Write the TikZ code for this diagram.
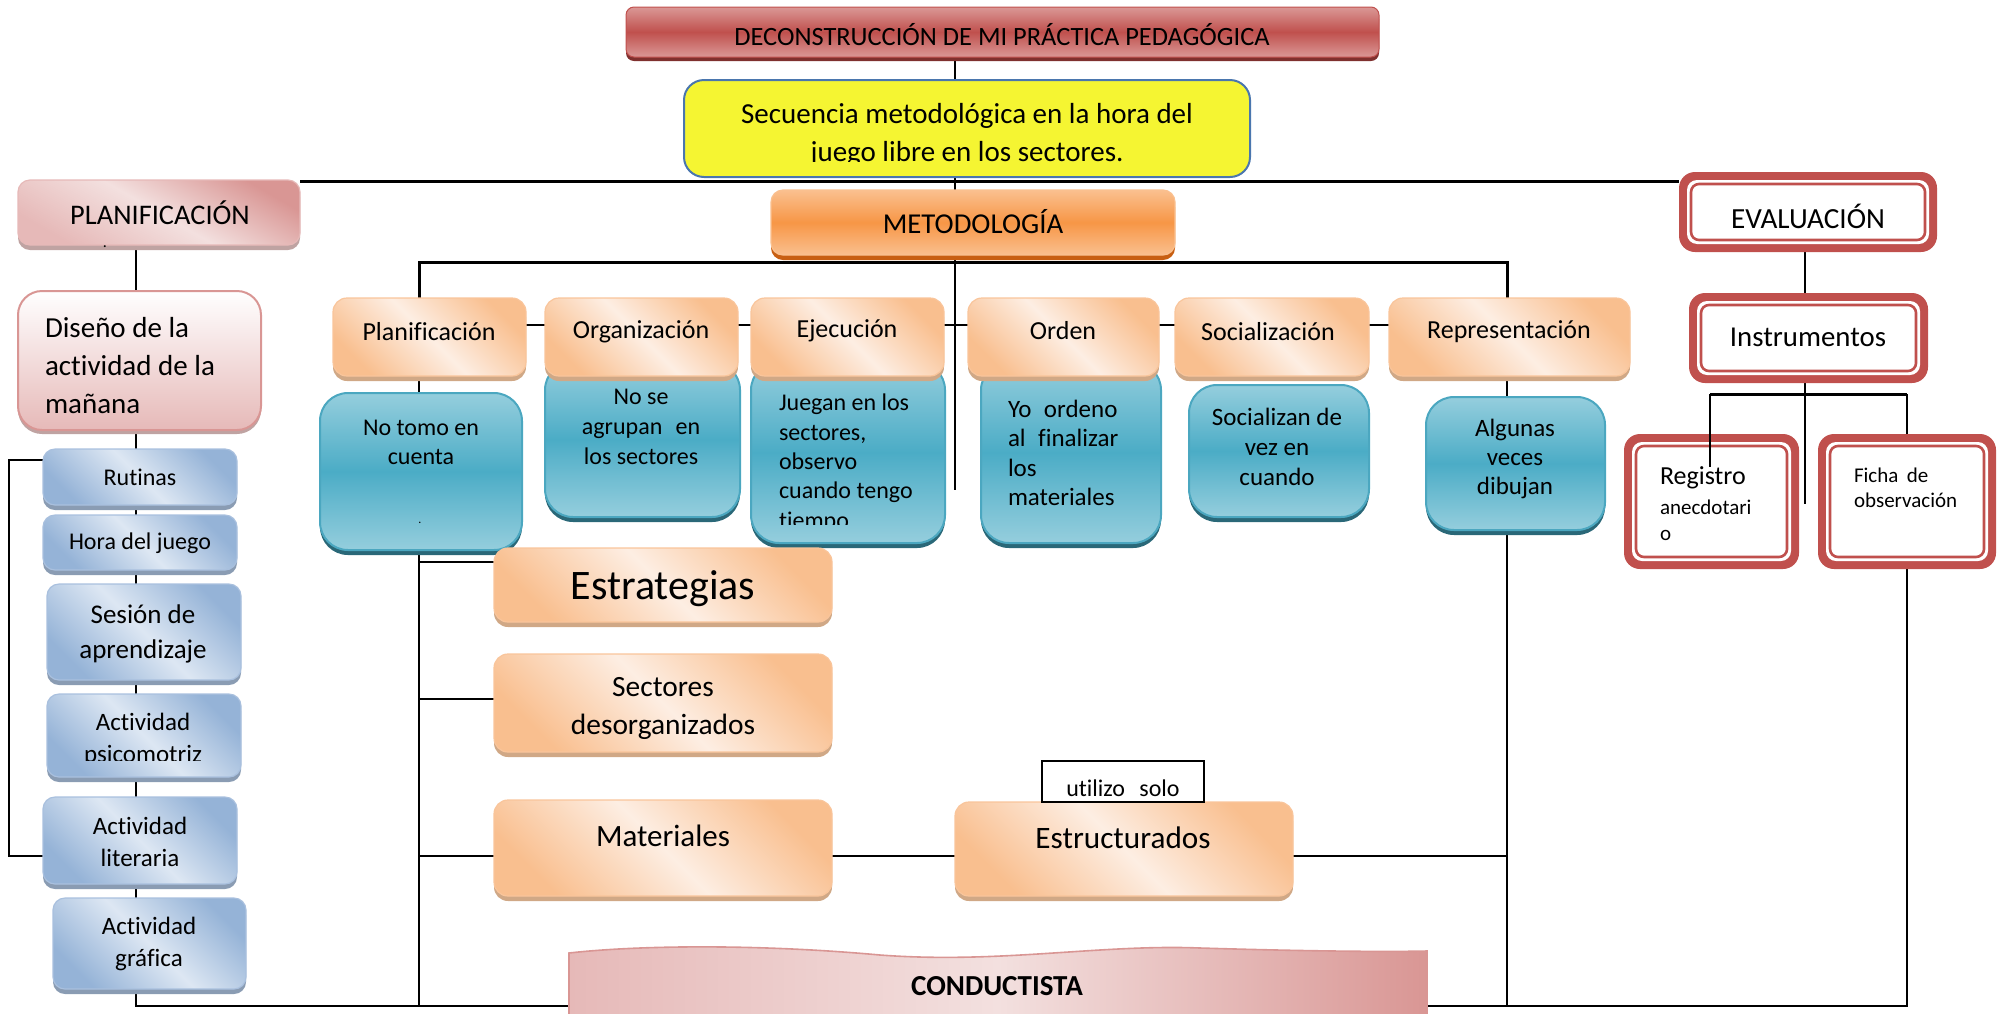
\documentclass[tikz,border=0pt]{standalone}
\usepackage{fontspec}
\setmainfont{Carlito}[Ligatures={NoCommon}]
\usetikzlibrary{fit,shadows,backgrounds}
\newcommand\fsz[2]{\fontsize{#1}{#2}\selectfont}
\definecolor{tred}{HTML}{C0504D}
\definecolor{tredl}{HTML}{DA9896}
\definecolor{tredd}{HTML}{7F302E}
\definecolor{yel}{HTML}{F5F532}
\definecolor{yelb}{HTML}{4A76AE}
\definecolor{orm}{HTML}{F79646}
\definecolor{orl}{HTML}{FAC08F}
\definecolor{ors}{HTML}{C85F12}
\definecolor{pea1}{HTML}{F9BF8F}
\definecolor{pea2}{HTML}{FDEEE3}
\definecolor{peab}{HTML}{F9C59B}
\definecolor{peas}{HTML}{D0A886}
\definecolor{tea}{HTML}{4BACC6}
\definecolor{teal1}{HTML}{95CEDD}
\definecolor{teab}{HTML}{4BA7C0}
\definecolor{teas}{HTML}{2A6878}
\definecolor{blu1}{HTML}{95B3D7}
\definecolor{blu2}{HTML}{DDE7F3}
\definecolor{blub}{HTML}{A9C0DE}
\definecolor{blus}{HTML}{8A9CB3}
\definecolor{pnk1}{HTML}{E6B9B8}
\definecolor{pnk2}{HTML}{F3E0DF}
\definecolor{pnkd}{HTML}{D99694}
\definecolor{pnks}{HTML}{BFA3A2}
\definecolor{evr}{HTML}{C0504D}
\tikzset{
  bx/.style={rectangle, inner sep=0pt, outer sep=0pt},
  txt/.style={inner sep=0pt, outer sep=0pt, text=black},
  conn/.style={line width=1pt, draw=black},
  wideconn/.style={line width=1.5pt, draw=black},
  titlebox/.style={bx, rounded corners=4pt, draw=tred, line width=0.5pt,
     top color=tredl, bottom color=tredl, middle color=tred,
     drop shadow={shadow xshift=0pt, shadow yshift=-2pt, fill=tredd, opacity=1}},
  yelbox/.style={bx, rounded corners=10pt, fill=yel, draw=yelb, line width=1pt},
  metbox/.style={bx, rounded corners=6pt, draw=orl, line width=0.6pt,
     top color=orl, bottom color=orl, middle color=orm,
     drop shadow={shadow xshift=0pt, shadow yshift=-2.5pt, fill=ors, opacity=1}},
  peabox/.style={bx, rounded corners=7pt, draw=peab, line width=0.6pt,
     top color=pea1, bottom color=pea1, middle color=pea2, shading angle=-45,
     drop shadow={shadow xshift=0pt, shadow yshift=-2.5pt, fill=peas, opacity=1}},
  teabox/.style={bx, rounded corners=14pt, draw=teab, line width=1pt,
     top color=teal1, bottom color=teal1, middle color=tea,
     drop shadow={shadow xshift=0pt, shadow yshift=-2.5pt, fill=teas, opacity=1}},
  blubox/.style={bx, rounded corners=6pt, draw=blub, line width=0.6pt,
     top color=blu1, bottom color=blu1, middle color=blu2, shading angle=-45,
     drop shadow={shadow xshift=0pt, shadow yshift=-2.5pt, fill=blus, opacity=1}},
  pnkbox/.style={bx, rounded corners=6pt, draw=pnk1, line width=0.6pt,
     top color=pnkd, bottom color=pnk1, middle color=pnk2, shading angle=-30,
     drop shadow={shadow xshift=0pt, shadow yshift=-2.5pt, fill=pnks, opacity=1}},
  disbox/.style={bx, rounded corners=12pt, draw=pnkd, line width=1pt,
     top color=white, bottom color=pnk1,
     drop shadow={shadow xshift=0pt, shadow yshift=-2pt, fill=pnks, opacity=1}},
}
\newcommand\evbox[5]{%
  \node[bx, fit={(#2,#3) (#4,#5)}, fill=evr, rounded corners=8pt] (#1) {};
  \fill[white, rounded corners=5pt] ([xshift=4pt,yshift=-4pt]#1.north west) rectangle ([xshift=-4pt,yshift=4pt]#1.south east);
  \draw[evr, line width=1.3pt, rounded corners=4pt] ([xshift=6pt,yshift=-6pt]#1.north west) rectangle ([xshift=-6pt,yshift=6pt]#1.south east);
}
\begin{document}
\begin{tikzpicture}[x=0.5pt,y=-0.5pt]
\useasboundingbox (0,0) rectangle (2000,1013);
% title
\node[titlebox, fit={(626,7) (1379,57)}] (title) {};
\node[txt, font=\fsz{13.2}{15}] (ttitle) at (1002,35) {DECONSTRUCCIÓN DE MI PRÁCTICA PEDAGÓGICA};
% yellow
\node[yelbox, fit={(684,80) (1250,177)}] (yellow) {};
\begin{scope}
\clip (684,80) rectangle (1250,161);
\node[txt, align=center, font=\fsz{14.5}{19}] (tyellow) at (967,135) {Secuencia metodológica en la hora del\\juego libre en los sectores.};
\end{scope}
% planificacion column
\node[pnkbox, fit={(18,180) (300,245)}] (plan) {};
\node[txt, font=\fsz{14.2}{16}] (tplan) at (160,213) {PLANIFICACIÓN};
\node[txt, font=\fsz{8}{9}] (tdot1) at (105,247) {.};
\node[disbox, fit={(18,291) (261,430)}] (dis) {};
\node[txt, anchor=west, align=left, font=\fsz{14.5}{19}] (tdis) at (45,366) {Diseño de la\\actividad de la\\mañana};
\node[blubox, fit={(43,449) (237,505)}] (rut) {};
\node[txt, font=\fsz{12}{14}] (trut) at (140,477) {Rutinas};
\node[blubox, fit={(43,515) (237,570)}] (hora) {};
\node[txt, font=\fsz{12}{14}] (thora) at (140,543) {Hora del juego};
\node[blubox, fit={(47,584) (241,680)}] (ses) {};
\node[txt, align=center, font=\fsz{13.5}{17.5}] (tses) at (143,634) {Sesión de\\aprendizaje};
\node[blubox, fit={(47,694) (241,777)}] (psi) {};
\begin{scope}
\clip (47,694) rectangle (241,760);
\node[txt, align=center, font=\fsz{12.5}{16}] (tpsi) at (143,740) {Actividad\\psicomotriz};
\end{scope}
\node[blubox, fit={(43,797) (237,884)}] (lit) {};
\node[txt, align=center, font=\fsz{12.5}{16}] (tlit) at (140,842) {Actividad\\literaria};
\node[blubox, fit={(53,898) (246,989)}] (graf) {};
\node[txt, align=center, font=\fsz{12.5}{16}] (tgraf) at (149,944) {Actividad\\gráfica};
% metodologia
\node[metbox, fit={(771,190) (1175,255)}] (met) {};
\node[txt, font=\fsz{14.4}{16}] (tmet) at (973,222) {METODOLOGÍA};
% teal boxes
\node[teabox, fit={(320,393) (522,550)}] (t1) {};
\node[txt, align=center, font=\fsz{12}{14.6}] (tt1) at (421,442) {No tomo en\\cuenta};
\node[txt, font=\fsz{6}{7}] (tdot2) at (420,523) {.};
\node[teabox, fit={(545,362) (740,517)}] (t2) {};
\node[txt, align=center, font=\fsz{12}{15}] (tt2) at (641,427) {No se\\agrupan\hspace{0.55em}en\\los sectores};
\node[teabox, fit={(751,362) (945,543)}] (t3) {};
\begin{scope}
\clip (751,362) rectangle (945,524);
\node[txt, anchor=west, align=left, font=\fsz{12}{14.65}] (tt3) at (779,463) {Juegan en los\\sectores,\\observo\\cuando tengo\\tiempo};
\end{scope}
\node[teabox, fit={(981,362) (1161,543)}] (t4) {};
\node[txt, anchor=west, align=left, font=\fsz{12.5}{14.7}] (tt4) at (1008,453) {Yo\hspace{0.5em}ordeno\\al\hspace{0.5em}finalizar\\los\\materiales};
\node[teabox, fit={(1189,385) (1369,517)}] (t5) {};
\node[txt, align=center, font=\fsz{12.5}{15}] (tt5) at (1277,447) {Socializan de\\vez en\\cuando};
\node[teabox, fit={(1426,397) (1605,530)}] (t6) {};
\node[txt, align=center, font=\fsz{12.5}{14.6}] (tt6) at (1515,459) {Algunas\\veces\\dibujan};
% row
\node[peabox, fit={(333,298) (526,376)}] (pla) {};
\node[txt, font=\fsz{13}{15}] (tpla) at (429,332) {Planificación};
\node[peabox, fit={(545,298) (738,376)}] (org) {};
\node[txt, font=\fsz{13}{15}] (torg) at (641,332) {Organización};
\node[peabox, fit={(751,298) (944,376)}] (eje) {};
\node[txt, font=\fsz{13}{15}] (teje) at (847,331) {Ejecución};
\node[peabox, fit={(968,298) (1159,376)}] (orde) {};
\node[txt, font=\fsz{13}{15}] (torde) at (1063,331) {Orden};
\node[peabox, fit={(1175,298) (1369,376)}] (soc) {};
\node[txt, font=\fsz{13}{15}] (tsoc) at (1268,332) {Socialización};
\node[peabox, fit={(1389,298) (1630,376)}] (rep) {};
\node[txt, font=\fsz{13}{15}] (trep) at (1509,332) {Representación};
% strategies
\node[peabox, fit={(494,548) (832,622)}] (estr) {};
\node[txt, font=\fsz{21}{24}] (testr) at (663,589) {Estrategias};
\node[peabox, fit={(494,654) (832,752)}] (sect) {};
\node[txt, align=center, font=\fsz{14.7}{19}] (tsect) at (663,708) {Sectores\\desorganizados};
\node[peabox, fit={(494,800) (832,896)}] (mat) {};
\node[txt, font=\fsz{15.5}{17}] (tmat) at (663,836) {Materiales};
\node[peabox, fit={(955,802) (1293,896)}] (estru) {};
\node[txt, font=\fsz{15.6}{17}] (testru) at (1123,838) {Estructurados};
\node[bx, draw=black, line width=1pt, fill=white, fit={(1042,761) (1204,802)}] (util) {};
\begin{scope}
\clip (1042,761) rectangle (1204,799);
\node[txt, font=\fsz{12}{14}] (tutil) at (1123,788) {utilizo\hspace{0.6em}solo};
\end{scope}
% evaluation
\evbox{eval}{1679}{172}{1937}{252}
\node[txt, font=\fsz{14.6}{16}] (teval) at (1808,216) {EVALUACIÓN};
\evbox{instr}{1689}{293}{1928}{383}
\node[txt, font=\fsz{14.4}{16}] (tinstr) at (1808,337) {Instrumentos};
\evbox{reg}{1624}{434}{1799}{569}
\node[txt, anchor=west, font=\fsz{13}{15}] (treg1) at (1660,478) {Registro};
\node[txt, anchor=west, font=\fsz{10.5}{12}] (treg2) at (1660,507) {anecdotari};
\node[txt, anchor=west, font=\fsz{10.5}{12}] (treg3) at (1660,535) {o};
\evbox{ficha}{1818}{434}{1996}{569}
\node[txt, anchor=west, font=\fsz{10.5}{12}] (tfi1) at (1854,475) {Ficha\hspace{0.4em}de};
\node[txt, anchor=west, font=\fsz{10.5}{12}] (tfi2) at (1854,500) {observación};
% banner
\shadedraw[draw=pnkd, line width=0.8pt, left color=pnk1, right color=pnkd, middle color=pnk2]
  (569,953) .. controls (640,945) and (760,944) .. (880,955)
  .. controls (1000,964) and (1100,944) .. (1200,948)
  .. controls (1300,951) and (1380,952) .. (1427,951) -- (1427,1030) -- (569,1030) -- cycle;
\node[txt, font=\bfseries\fsz{14.5}{16}] (tcond) at (997,986) {CONDUCTISTA};
% connector over registro
\coordinate (rx) at (1710,0);
\coordinate (h3) at (0,394);
\coordinate (rend) at (1710,467);
\draw[conn] (rx |- h3) -- (rend);
% connectors behind
\begin{scope}[on background layer]
\coordinate (sp) at (955,0);
\coordinate (spend) at (955,490);
\draw[conn] (title.south -| sp) -- (spend);
\coordinate (h1) at (0,181);
\draw[wideconn] (plan.east |- h1) -- (eval.west |- h1);
\coordinate (lx) at (136,0);
\coordinate (bl) at (0,1006);
\draw[conn] (plan.south -| lx) -- (dis.north -| lx);
\draw[conn, line width=1.2pt] (dis.south -| lx) -- (lx |- bl) -- (ficha.south |- bl) -- (ficha.south);
\coordinate (b1) at (9,460);
\coordinate (b2) at (9,856);
\draw[conn] (rut.west |- b1) -- (b1) -- (b2) -- (lit.west |- b2);
\coordinate (xa) at (419,0);
\coordinate (xb) at (1507,0);
\coordinate (h2) at (0,262);
\draw[wideconn] (pla.north -| xa) -- (xa |- h2) -- (xb |- h2) -- (rep.north -| xb);
\draw[conn] (pla.south -| xa) -- (t1.north -| xa);
\draw[conn] (t1.south -| xa) -- (xa |- bl);
\coordinate (e1) at (0,562);
\draw[conn] (xa |- e1) -- (estr.west |- e1);
\coordinate (s1) at (0,699);
\draw[conn] (xa |- s1) -- (sect.west |- s1);
\coordinate (m1) at (0,856);
\draw[conn] (xa |- m1) -- (mat.west |- m1);
\draw[conn] (mat.east |- m1) -- (estru.west |- m1);
\draw[conn] (estru.east |- m1) -- (xb |- m1);
\draw[conn] (rep.south -| xb) -- (t6.north -| xb);
\draw[conn] (t6.south -| xb) -- (xb |- bl);
\coordinate (r1) at (0,325);
\draw[conn] (pla.east |- r1) -- (org.west |- r1);
\draw[conn] (org.east |- r1) -- (eje.west |- r1);
\draw[conn] (eje.east |- r1) -- (orde.west |- r1);
\draw[conn] (orde.east |- r1) -- (soc.west |- r1);
\draw[conn] (soc.east |- r1) -- (rep.west |- r1);
\coordinate (ix) at (1805,0);
\coordinate (iend) at (1805,504);
\draw[conn] (eval.south -| ix) -- (instr.north -| ix);
\draw[conn] (instr.south -| ix) -- (iend);
\draw[wideconn] (rx |- h3) -- (ficha.north |- h3);
\draw[conn] (ficha.north |- h3) -- (ficha.north);
\end{scope}
\end{tikzpicture}
\end{document}
